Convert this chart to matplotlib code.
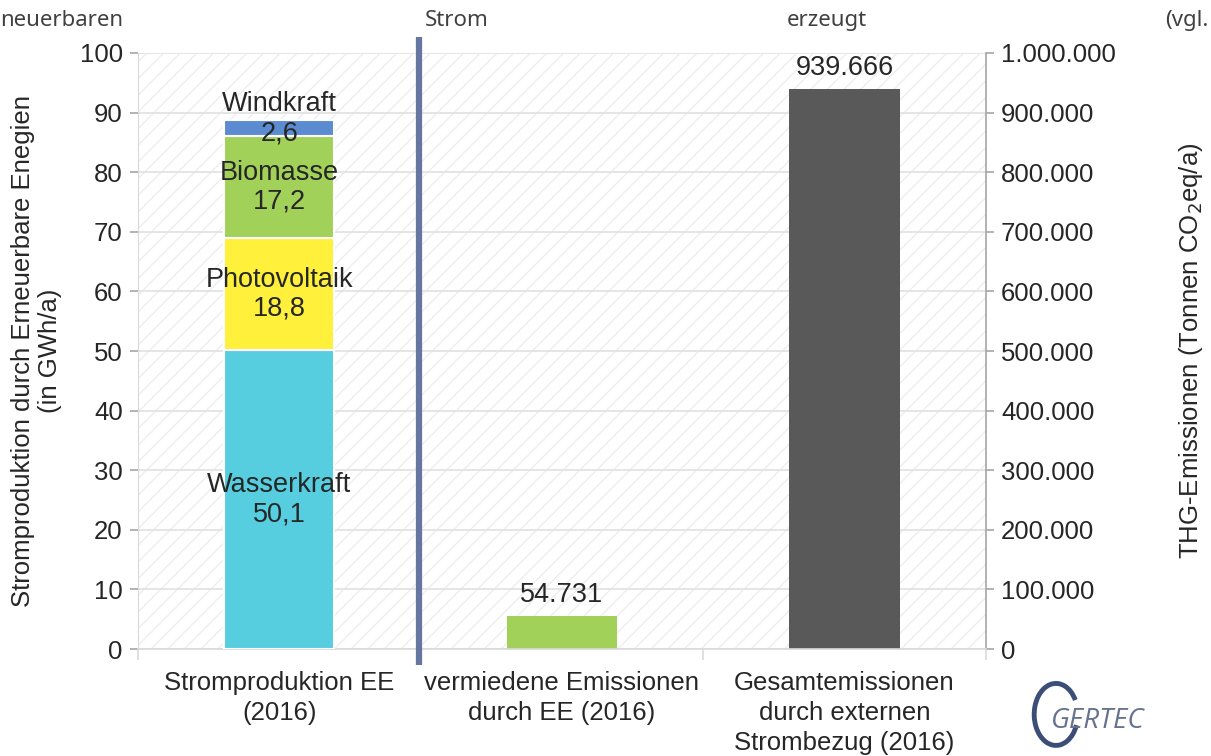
import matplotlib.pyplot as plt
import numpy as np
from matplotlib.patches import Rectangle, Arc

# stacked renewable production (GWh/a)
sources = ["Wasserkraft", "Photovoltaik", "Biomasse", "Windkraft"]
production = [50.1, 18.8, 17.2, 2.6]
source_colors = ["#56CEDF", "#FFF03C", "#A2D15A", "#5B8CD1"]

# emissions (t CO2eq/a)
emission_cats = ["vermiedene Emissionen\ndurch EE (2016)",
                 "Gesamtemissionen\ndurch externen\nStrombezug (2016)"]
emissions = [54731, 939666]
emission_colors = ["#A2D15A", "#595959"]

categories = ["Stromproduktion EE\n(2016)"] + emission_cats
header_words = ["neuerbaren", "Strom", "erzeugt", "(vgl."]

def de_num(v, dec=0):
    s = f"{v:,.{dec}f}"
    return s.replace(",", "X").replace(".", ",").replace("X", ".")

plt.rcParams["font.family"] = ["Liberation Sans", "DejaVu Sans"]
plt.rcParams["hatch.linewidth"] = 1.0
txt = "#262626"
fs_ax = 18.5
fs_val = 19.5

fig = plt.figure(figsize=(12.11, 7.56), dpi=100)
ax = fig.add_axes([0.114, 0.1415, 0.7, 0.7884])
ax2 = ax.twinx()
ax.set_zorder(ax2.get_zorder() + 1)
ax.patch.set_visible(False)

# hatched background + grid on the rear axes
ax2.add_patch(Rectangle((0, 0), 1, 1, transform=ax2.transAxes, facecolor="white",
                        edgecolor="#EDEDED", hatch="//", lw=0, zorder=0))
ax2.yaxis.grid(True, color="#E3E3E3", lw=1.3, zorder=1)
ax2.set_axisbelow(True)

x = np.arange(len(categories))
w = 0.39
bottom = 0
for name, val, col in zip(sources, production, source_colors):
    ax.bar(x[0], val, w, bottom=bottom, color=col, edgecolor="white", lw=1.5, zorder=3)
    yc = bottom + val / 2
    if name == "Windkraft":
        yc += 1.6
    ax.text(x[0], yc, name + "\n" + de_num(val, 1), ha="center", va="center",
            fontsize=fs_val, color=txt, zorder=5, linespacing=1.15)
    bottom += val

ax2.bar(x[1:], emissions, w, color=emission_colors, zorder=3)
for xi, v in zip(x[1:], emissions):
    ax2.text(xi, v + 14000, de_num(v), ha="center", va="bottom", fontsize=fs_val, color=txt)

ax.set_xlim(-0.5, 2.5)
ax.set_ylim(0, 100)
ax2.set_ylim(0, 1000000)
ax.set_yticks(np.arange(0, 101, 10))
ax2.set_yticks(np.arange(0, 1000001, 100000))
ax2.set_yticklabels([de_num(v) for v in np.arange(0, 1000001, 100000)])

ax.set_xticks(x)
ax.set_xticklabels(categories, fontsize=fs_ax, color=txt, linespacing=1.3)
ax.set_xticks([-0.5, 0.5, 1.5, 2.5], minor=True)
ax.tick_params(axis="x", which="major", length=0, pad=16)
ax.tick_params(axis="x", which="minor", length=8, color="#D9D9D9", width=1.2)
for a in (ax, ax2):
    a.tick_params(axis="y", labelsize=fs_ax, labelcolor=txt, color="#A6A6A6",
                  length=6, width=1.2, pad=5)
    for s in a.spines.values():
        s.set_visible(False)
ax.spines["bottom"].set_visible(True)
ax.spines["bottom"].set_color("#D9D9D9")
ax.spines["bottom"].set_linewidth(1.2)
ax.spines["left"].set_visible(True)
ax.spines["left"].set_color("#D9D9D9")
ax2.spines["right"].set_visible(True)
ax2.spines["right"].set_color("#A6A6A6")
ax2.spines["right"].set_linewidth(1.2)

ax.set_ylabel("Stromproduktion durch Erneuerbare Enegien\n(in GWh/a)", fontsize=fs_ax,
              color=txt, labelpad=13, linespacing=1.15)
ax2.set_ylabel("THG-Emissionen (Tonnen CO$_2$eq/a)", fontsize=fs_ax, color=txt, labelpad=44)

# divider between production and emissions
ax.plot([0.495, 0.495], [-2.7, 102.7], color="#6577A0", lw=4.5, clip_on=False,
        solid_capstyle="butt", zorder=6)

# header words running above the chart
for wd, xp in zip(header_words, [0.0, 0.351, 0.650, 0.962]):
    fig.text(xp, 0.973, wd, fontsize=16, color="#404040", family="Noto Sans",
             ha="left", va="center")

# logo
fig.add_artist(Arc((0.872, 0.055), 0.036, 0.082, theta1=50, theta2=320,
                   transform=fig.transFigure, color="#3C4E78", lw=3.5))
fig.text(0.868, 0.046, "GERTEC", fontsize=20, color="#66738E", style="italic",
         family="Open Sans", ha="left", va="center")

fig.savefig("out.png", dpi=100)
